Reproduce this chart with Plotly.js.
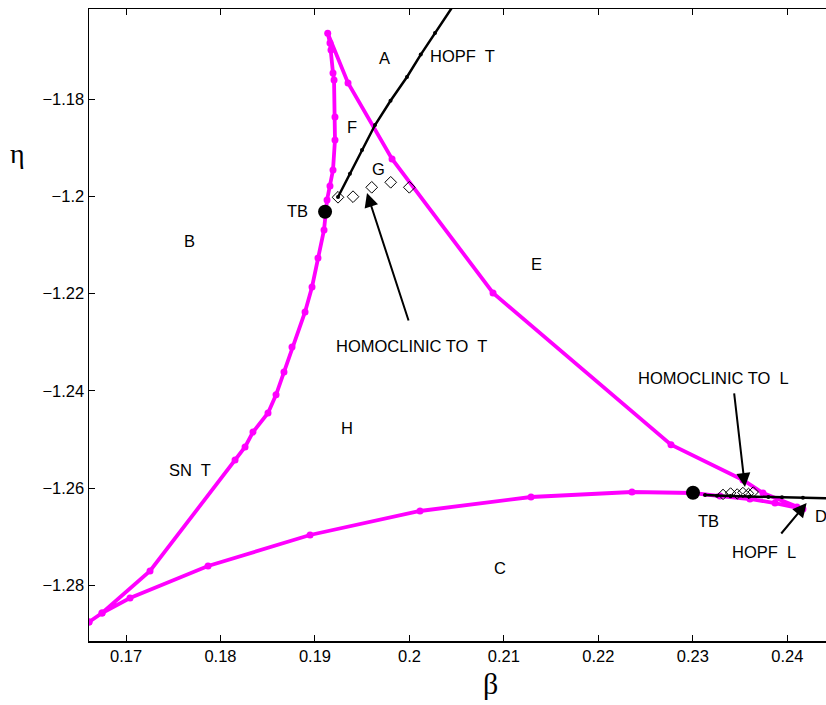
<!DOCTYPE html>
<html><head><meta charset="utf-8">
<script src="https://cdn.plot.ly/plotly-3.0.1.min.js"></script>
<style>body{margin:0;background:#fff}#c{width:826px;height:705px}</style>
</head><body><div id="c"></div>
<script>
// SN T curve (magenta), closed swallowtail-like loop
const snBeta = [0.16608,0.16746,0.17254,0.18154,0.18260,0.18344,0.18503,0.18588,0.18672,0.18757,0.18895,0.18969,0.19032,0.19096,0.19128,0.19159,0.19191,0.19212,0.19212,0.19202,0.19191,0.19170,0.19159,0.19135,
  0.19350,0.19816,0.20885,0.22769,0.23531,0.23743,0.24103,0.24166,
  0.23870,0.23605,0.23288,0.23002,0.22356,0.21287,0.20112,0.18948,0.17868,0.17042,0.16746,0.16608];
const snEta = [-1.28755,-1.28570,-1.27706,-1.25422,-1.25154,-1.24846,-1.24455,-1.24081,-1.23611,-1.23096,-1.22376,-1.21862,-1.21265,-1.20689,-1.20072,-1.19784,-1.19455,-1.18837,-1.18364,-1.17603,-1.17459,-1.16986,-1.16842,-1.16642,
  -1.17665,-1.19228,-1.21984,-1.25106,-1.25833,-1.26101,-1.26389,-1.26430,
  -1.26307,-1.26224,-1.26163,-1.26101,-1.26080,-1.26183,-1.26471,-1.26965,-1.27603,-1.28261,-1.28570,-1.28755];
// HOPF T curve (black)
const hopfTBeta = [0.19244,0.19370,0.19498,0.19636,0.19800,0.19974,0.20120,0.20271,0.20504];
const hopfTEta  = [-1.20010,-1.19530,-1.19043,-1.18529,-1.18030,-1.17541,-1.17080,-1.16636,-1.15957];
// HOPF L curve (black)
const hopfLBeta = [0.23129,0.23256,0.23400,0.23600,0.23800,0.23944,0.24166,0.24452];
const hopfLEta  = [-1.26142,-1.26156,-1.26165,-1.26175,-1.26185,-1.26189,-1.26197,-1.26210];
// Homoclinic orbits
const homTBeta = [0.19244,0.19403,0.19601,0.19802,0.19999];
const homTEta  = [-1.20016,-1.20004,-1.19811,-1.19708,-1.19811];
const homLBeta = [0.2332,0.2340,0.2347,0.2353,0.2359,0.2364];
const homLEta  = [-1.2613,-1.2610,-1.2612,-1.2609,-1.2611,-1.2608];
// TB points
const tbBeta = [0.19107,0.23002];
const tbEta  = [-1.20313,-1.26095];
// Region / curve labels
const labText = ["A","HOPF  T","F","G","TB","B","E","HOMOCLINIC TO  T","HOMOCLINIC TO  L","H","SN  T","TB","D","HOPF  L","C"];
const labBeta = [0.19731,0.20557,0.19392,0.19668,0.18810,0.17677,0.21340,0.20017,0.23214,0.19339,0.17677,0.23171,0.24353,0.23754,0.20959];
const labEta  = [-1.1715,-1.17109,-1.1857,-1.19434,-1.20298,-1.20915,-1.21389,-1.23076,-1.23735,-1.24763,-1.25627,-1.26677,-1.26574,-1.27315,-1.27644];
// Arrows: tail -> tip
const arrTailBeta = [0.19996,0.23436,0.23923];
const arrTailEta  = [-1.22582,-1.24022,-1.26965];
const arrTipBeta  = [0.19551,0.23552,0.24205];
const arrTipEta   = [-1.19928,-1.25977,-1.26307];

const traces = [
  {x:snBeta,y:snEta,mode:'lines+markers',line:{color:'#ff00ff',width:3.8},marker:{color:'#ff00ff',size:7},hoverinfo:'skip'},
  {x:hopfTBeta,y:hopfTEta,mode:'lines+markers',line:{color:'#000',width:2.5},marker:{color:'#000',size:4},hoverinfo:'skip'},
  {x:hopfLBeta,y:hopfLEta,mode:'lines+markers',line:{color:'#000',width:2.5},marker:{color:'#000',size:4},hoverinfo:'skip'},
  {x:homTBeta,y:homTEta,mode:'markers',marker:{symbol:'diamond-open',color:'#000',size:9,line:{width:1}},hoverinfo:'skip'},
  {x:homLBeta,y:homLEta,mode:'markers',marker:{symbol:'diamond-open',color:'#000',size:8,line:{width:1}},hoverinfo:'skip'},
  {x:tbBeta,y:tbEta,mode:'markers',marker:{color:'#000',size:14},hoverinfo:'skip'}
];

const ann = [];
for (let i=0;i<labText.length;i++){
  ann.push({x:labBeta[i],y:labEta[i],xref:'x',yref:'y',text:labText[i],showarrow:false,
    xanchor:'center',yanchor:'middle',
    font:{family:'Liberation Sans, Arial, sans-serif',size:16.5,color:'#000'}});
}
for (let i=0;i<arrTipBeta.length;i++){
  ann.push({x:arrTipBeta[i],y:arrTipEta[i],xref:'x',yref:'y',ax:arrTailBeta[i],ay:arrTailEta[i],axref:'x',ayref:'y',
    text:'',showarrow:true,arrowhead:2,arrowsize:1.4,arrowwidth:2,arrowcolor:'#000'});
}
ann.push({x:(490-89)/737,y:(641-683)/632,xref:'paper',yref:'paper',text:'β',showarrow:false,
  xanchor:'center',yanchor:'middle',
  font:{family:'Liberation Serif, Times New Roman, serif',size:30,color:'#000'}});
ann.push({x:(17-89)/737,y:(641-153)/632,xref:'paper',yref:'paper',text:'η',showarrow:false,
  xanchor:'center',yanchor:'middle',
  font:{family:'Liberation Serif, Times New Roman, serif',size:28,color:'#000'}});

const layout = {
  width:826,height:705,
  margin:{l:89,r:0,t:9,b:64},
  paper_bgcolor:'#fff',plot_bgcolor:'#fff',
  showlegend:false,
  font:{family:'Liberation Sans, Arial, sans-serif',size:16,color:'#000'},
  xaxis:{range:[0.16608,0.2441],tickvals:[0.17,0.18,0.19,0.2,0.21,0.22,0.23,0.24],ticktext:['0.17','0.18','0.19','0.2','0.21','0.22','0.23','0.24'],
    ticks:'inside',ticklen:6,tickcolor:'#000',showline:true,linecolor:'#000',linewidth:1.5,mirror:'ticks',showgrid:false,zeroline:false,
    tickfont:{size:16.5}},
  yaxis:{range:[-1.29146,-1.16142],tickvals:[-1.28,-1.26,-1.24,-1.22,-1.2,-1.18],ticktext:['−1.28','−1.26','−1.24','−1.22','−1.2','−1.18'],
    ticks:'inside',ticklen:6,tickcolor:'#000',showline:true,linecolor:'#000',linewidth:1.5,mirror:false,showgrid:false,zeroline:false,
    tickfont:{size:16.5}},
  annotations:ann
};
Plotly.newPlot('c',traces,layout,{displayModeBar:false,staticPlot:true});
</script></body></html>
